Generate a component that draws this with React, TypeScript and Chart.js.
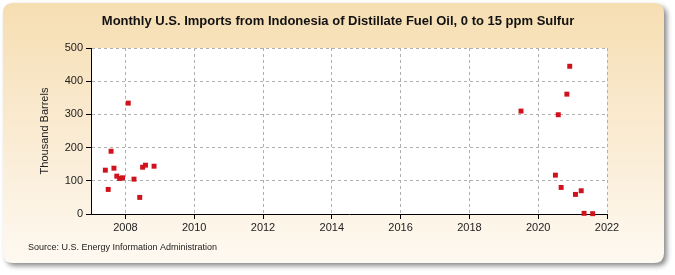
import React, { useEffect, useRef } from 'react';
import { Chart, registerables } from 'chart.js';

Chart.register(...registerables);

const TITLE = 'Monthly U.S. Imports from Indonesia of Distillate Fuel Oil, 0 to 15 ppm Sulfur';
const Y_TITLE = 'Thousand Barrels';
const SOURCE = 'Source: U.S. Energy Information Administration';

const MONTHS = [
  '2007-06', '2007-07', '2007-08', '2007-09', '2007-10', '2007-11', '2007-12',
  '2008-02', '2008-04', '2008-06', '2008-07', '2008-08', '2008-11',
  '2019-07',
  '2020-07', '2020-08', '2020-09', '2020-11', '2020-12',
  '2021-02', '2021-04', '2021-05', '2021-08',
];
const VALUES = [
  132, 74, 189, 138, 114, 107, 109,
  334, 105, 50, 141, 147, 144,
  310,
  117, 299, 80, 361, 445,
  59, 70, 2, 1,
];

const X_TICKS = [2008, 2010, 2012, 2014, 2016, 2018, 2020, 2022];
const Y_TICKS = [0, 100, 200, 300, 400, 500];

const toDecimalYear = (m: string) => {
  const [y, mo] = m.split('-').map(Number);
  return y + (mo - 1) / 12;
};

const FONT = '"Liberation Sans", Arial, sans-serif';
const NARROW = '"Liberation Sans Narrow", "Arial Narrow", "Liberation Sans", Arial, sans-serif';

const framePlugin = {
  id: 'frame',
  beforeDraw(chart: any) {
    const { ctx, chartArea } = chart;
    ctx.save();
    const x = 3, y = 3, w = 661, h = 260, r = 10;
    const path = () => {
      ctx.beginPath();
      ctx.moveTo(x + r, y);
      ctx.lineTo(x + w - r, y);
      ctx.quadraticCurveTo(x + w, y, x + w, y + r);
      ctx.lineTo(x + w, y + h - r);
      ctx.quadraticCurveTo(x + w, y + h, x + w - r, y + h);
      ctx.lineTo(x + r, y + h);
      ctx.quadraticCurveTo(x, y + h, x, y + h - r);
      ctx.lineTo(x, y + r);
      ctx.quadraticCurveTo(x, y, x + r, y);
      ctx.closePath();
    };
    ctx.shadowColor = 'rgba(0,0,0,0.45)';
    ctx.shadowBlur = 5;
    ctx.shadowOffsetX = 3;
    ctx.shadowOffsetY = 3;
    const g = ctx.createLinearGradient(0, y, 0, y + h);
    g.addColorStop(0, '#f6deb2');
    g.addColorStop(0.5, '#faebd2');
    g.addColorStop(1, '#fef9f1');
    ctx.fillStyle = g;
    path();
    ctx.fill();
    ctx.shadowColor = 'transparent';
    ctx.fillStyle = '#ffffff';
    ctx.fillRect(chartArea.left, chartArea.top, chartArea.right - chartArea.left, chartArea.bottom - chartArea.top);
    ctx.restore();
  },
  afterDraw(chart: any) {
    const { ctx, chartArea } = chart;
    ctx.save();
    ctx.fillStyle = '#111111';
    ctx.textBaseline = 'middle';
    ctx.textAlign = 'center';
    ctx.font = `bold 13px ${NARROW}`;
    ctx.fillText(TITLE, 338, 21);
    ctx.font = `11px ${FONT}`;
    ctx.fillStyle = '#222222';
    ctx.translate(45, (chartArea.top + chartArea.bottom) / 2);
    ctx.rotate(-Math.PI / 2);
    ctx.fillText(Y_TITLE, 0, 0);
    ctx.restore();
    ctx.save();
    ctx.fillStyle = '#222222';
    ctx.textBaseline = 'middle';
    ctx.textAlign = 'left';
    ctx.font = `9px ${NARROW}`;
    ctx.fillText(SOURCE, 28, 248);
    ctx.restore();
  },
};

export default function App() {
  const ref = useRef<HTMLCanvasElement | null>(null);
  useEffect(() => {
    document.body.style.margin = '0';
    const canvas = ref.current;
    if (!canvas) return;
    const points = MONTHS.map((m, i) => ({ x: toDecimalYear(m), y: VALUES[i] }));
    const chart = new Chart(canvas, {
      type: 'scatter',
      data: {
        datasets: [
          {
            data: points,
            backgroundColor: '#d0121c',
            borderWidth: 0,
            pointStyle: 'rect',
            pointRadius: 3.5,
            pointHoverRadius: 3.5,
            clip: false as any,
          },
        ],
      },
      options: {
        responsive: false,
        animation: false,
        layout: { padding: { left: 10, right: 68, top: 48, bottom: 39 } },
        plugins: {
          legend: { display: false },
          title: { display: false },
          tooltip: { enabled: false },
        },
        scales: {
          x: {
            type: 'linear',
            min: 2007,
            max: 2022,
            afterBuildTicks: (s: any) => {
              s.ticks = X_TICKS.map((v) => ({ value: v }));
            },
            afterFit: (s: any) => {
              s.height = 22;
            },
            grid: {
              color: '#b0b0b0',
              lineWidth: 1,
              tickColor: '#000000',
              tickLength: 5,
              tickBorderDash: [],
            },
            border: { color: '#000000', width: 1, dash: [3, 3] },
            ticks: {
              font: { family: FONT, size: 11 },
              color: '#222222',
              padding: 2,
              maxRotation: 0,
              callback: (v: any) => String(v),
            },
          },
          y: {
            type: 'linear',
            min: 0,
            max: 500,
            afterBuildTicks: (s: any) => {
              s.ticks = Y_TICKS.map((v) => ({ value: v }));
            },
            afterFit: (s: any) => {
              s.width = 81;
            },
            grid: {
              color: '#b0b0b0',
              lineWidth: 1,
              tickColor: '#000000',
              tickLength: 5,
              tickBorderDash: [],
            },
            border: { color: '#000000', width: 1, dash: [3, 3] },
            ticks: {
              font: { family: FONT, size: 11 },
              color: '#222222',
              padding: 3,
              callback: (v: any) => String(v),
            },
          },
        },
      },
      plugins: [framePlugin],
    });
    return () => chart.destroy();
  }, []);
  return <canvas ref={ref} width={675} height={275} style={{ display: 'block' }} />;
}
